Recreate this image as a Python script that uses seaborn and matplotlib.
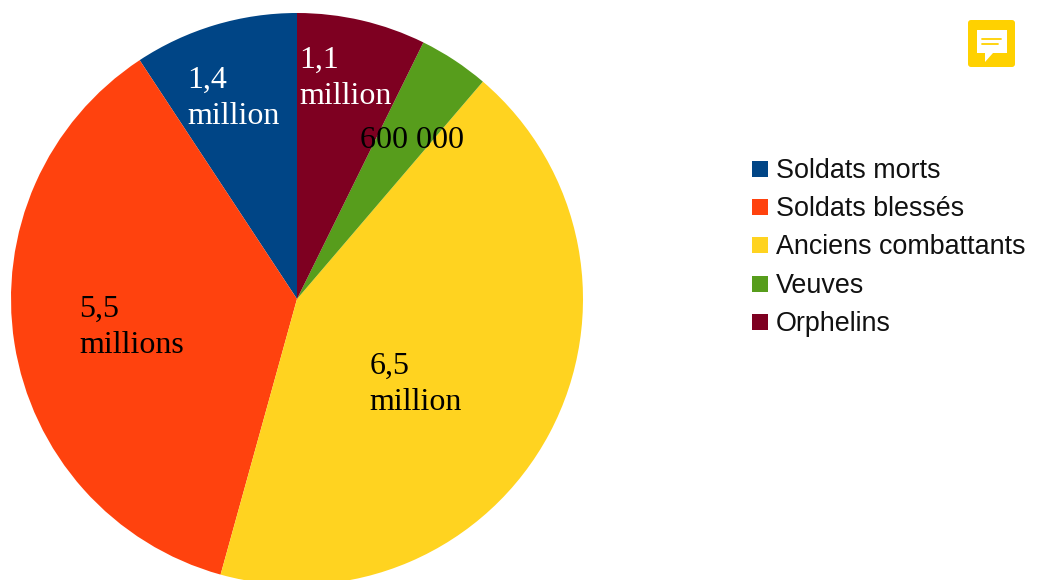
import seaborn as sns
import matplotlib.pyplot as plt
from matplotlib.patches import FancyBboxPatch, Polygon, Rectangle

labels = ['Soldats morts', 'Soldats blessés', 'Anciens combattants', 'Veuves', 'Orphelins']
values = [1.4, 5.5, 6.5, 0.6, 1.1]
value_labels = ['1,4\nmillion', '5,5\nmillions', '6,5\nmillion', '600 000', '1,1\nmillion']
colors = ['#004586', '#ff420e', '#ffd320', '#579d1c', '#7e0021']
text_colors = ['white', 'black', 'black', 'black', 'white']
# top-left corner of each value label, in pixels
label_pos = [(187.5, 66), (79.5, 295), (369.5, 352), (360, 126), (299.5, 46)]

sns.set_theme(style='white')
plt.rcParams['font.family'] = ['Liberation Sans', 'DejaVu Sans']

W, H = 1037, 580
fig = plt.figure(figsize=(W / 100, H / 100), dpi=100)
ax = fig.add_axes([0, 0, 1, 1])

# y axis is inverted, so counterclock=False runs anticlockwise on screen from 12 o'clock
wedges, _ = ax.pie(values, colors=colors, startangle=-90, counterclock=False,
                   center=(297, 299), radius=286, frame=True,
                   wedgeprops={'linewidth': 0})
ax.set_xlim(0, W)
ax.set_ylim(H, 0)
ax.set_aspect('equal')
ax.axis('off')

for txt, (x, y), c in zip(value_labels, label_pos, text_colors):
    ax.text(x, y, txt, color=c, fontsize=23, family='Liberation Serif',
            va='top', ha='left', linespacing=1.3)

# legend
for i, (lab, col) in enumerate(zip(labels, colors)):
    y = 169 + i * 38.2
    ax.add_patch(Rectangle((752, y - 8), 16, 16, color=col, lw=0))
    ax.text(776, y + 2, lab, fontsize=19.4, color='#111111', va='center', ha='left')

# comment icon
ax.add_patch(FancyBboxPatch((968, 20), 47, 47, boxstyle='round,pad=0,rounding_size=3',
                            fc='#ffd100', ec='none'))
ax.add_patch(Polygon([(977, 30), (1007, 30), (1007, 53), (993, 53), (985, 62), (985, 53), (977, 53)],
                     fc='white', ec='none'))
ax.plot([982, 1001], [39, 39], color='#ffd100', lw=1.3)
ax.plot([982, 998], [44, 44], color='#ffd100', lw=1.3)

fig.savefig('out.png', dpi=100)
